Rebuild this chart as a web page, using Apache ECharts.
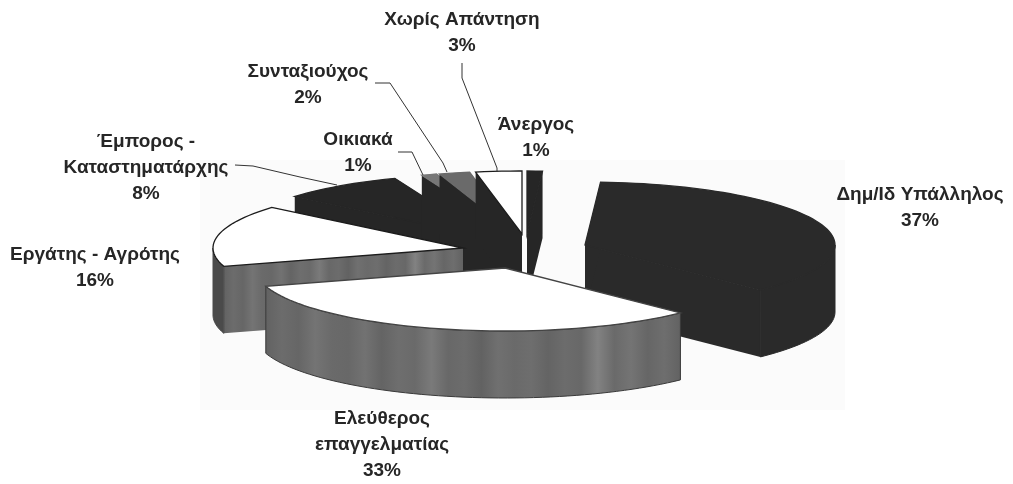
<!DOCTYPE html>
<html>
<head>
<meta charset="utf-8">
<style>
  html, body { margin: 0; padding: 0; background: #fff; }
  #pieChart { width: 1013px; height: 484px; }
</style>
</head>
<body>
<div id="pieChart"></div>
<script src="https://cdn.jsdelivr.net/npm/echarts@6/dist/echarts.min.js"></script>
<script>
// data, clockwise from 12 o'clock
const categories = ['Άνεργος', 'Δημ/Ιδ Υπάλληλος', 'Ελεύθερος\nεπαγγελματίας', 'Εργάτης - Αγρότης',
  'Έμπορος -\nΚαταστηματάρχης', 'Οικιακά', 'Συνταξιούχος', 'Χωρίς Απάντηση'];
const values = [1, 37, 33, 16, 8, 1, 2, 3];

// layout of the fake 3d pie
const pieCenter = [522, 240];
const radiusX = 250;
const radiusY = 63;
const depth = 67;
const explodeX = [5, 63, -17, -59, -36, -9, -6, 0];
const explodeY = [-6, 5, 28, 8, -3, -6, -6, -6];
const drawOrder = [0, 1, 4, 5, 6, 7, 3, 2]; // back to front

// label centres, first line
const labelX = [536, 920, 382, 95, 146, 358, 308, 462];
const labelY = [125, 195, 419, 255, 142, 140, 72, 20];
const leaders = [
  null, null, null, null,
  [[235, 165], [253, 166], [300, 177], [337, 185]],
  [[398, 152], [412, 152], [423, 175]],
  [[375, 83], [390, 83], [443, 163], [447, 172]],
  [[462, 63], [462, 78], [497, 168], [497, 172]]
];

const streaks = ['#626262', '#6c6c6c', '#666666', '#747474', '#6a6a6a', '#686868', '#727272', '#646464',
  '#6e6e6e', '#6a6a6a', '#7a7a7a', '#686868', '#6c6c6c', '#626262', '#707070', '#6a6a6a', '#6e6e6e', '#646464',
  '#6c6c6c', '#686868', '#828282', '#6a6a6a', '#747474', '#666666', '#6e6e6e', '#626262'];
const mottled = new echarts.graphic.LinearGradient(0, 0, 1, 0,
  streaks.map((color, i) => ({ offset: i / (streaks.length - 1), color: color })));

const topColors = ['#262626', '#2a2a2a', '#ffffff', '#ffffff', '#262626', '#777777', '#6a6a6a', '#ffffff'];
const topStrokes = ['#262626', '#2a2a2a', '#444444', '#1c1c1c', '#262626', '#777777', '#6a6a6a', '#1c1c1c'];
const sideColors = ['#262626', '#2a2a2a', mottled, '#4a4a4a', '#262626', '#262626', '#262626', '#262626'];
const innerColors = ['#262626', '#2a2a2a', mottled, mottled, '#262626', '#262626', '#262626', '#262626'];

const total = values.reduce((a, b) => a + b, 0);
const startAngle = values.map((v, i) => values.slice(0, i).reduce((a, b) => a + b, 0) / total * 360);

const rimPoint = (ax, ay, deg) => {
  const rad = deg * Math.PI / 180;
  return [ax + radiusX * Math.sin(rad), ay - radiusY * Math.cos(rad)];
};
const arcPoints = (ax, ay, from, to) => {
  const points = [];
  for (let d = from; d < to; d += 2) points.push(rimPoint(ax, ay, d));
  points.push(rimPoint(ax, ay, to));
  return points;
};
const drop = (p) => [p[0], p[1] + depth];

const renderSlice = (params, api) => {
  const i = api.value(0);
  const from = startAngle[i];
  const to = from + api.value(1) / total * 360;
  const ax = pieCenter[0] + explodeX[i];
  const ay = pieCenter[1] + explodeY[i];
  const apex = [ax, ay];
  const rim = arcPoints(ax, ay, from, to);
  const first = rim[0];
  const last = rim[rim.length - 1];
  const poly = (points, fill, stroke, lineWidth) => ({
    type: 'polygon',
    shape: { points: points },
    style: { fill: fill, stroke: stroke, lineWidth: lineWidth }
  });
  const children = [
    poly([apex, last, drop(last), drop(apex)], innerColors[i], null, 0),
    poly([apex, first, drop(first), drop(apex)], innerColors[i], null, 0)
  ];
  // only the part of the rim that faces the viewer has a visible wall
  const wallFrom = Math.max(from, 90);
  const wallTo = Math.min(to, 270);
  if (wallFrom < wallTo) {
    const wall = arcPoints(ax, ay, wallFrom, wallTo);
    children.push(poly(wall.concat(wall.map(drop).reverse()), sideColors[i],
      sideColors[i] === mottled ? '#3a3a3a' : sideColors[i], 1));
  }
  children.push(poly([apex].concat(rim), topColors[i], topStrokes[i], 1.3));
  return { type: 'group', children: children };
};

const labelElements = [];
categories.forEach((name, i) => {
  name.split('\n').concat(values[i] + '%').forEach((line, n) => {
    labelElements.push({
      type: 'text',
      style: {
        text: line,
        x: labelX[i],
        y: labelY[i] + n * 26,
        fill: '#262626',
        font: 'bold 19px "Liberation Sans", Arial, sans-serif',
        textAlign: 'center',
        textVerticalAlign: 'middle'
      }
    });
  });
  if (leaders[i]) {
    labelElements.push({
      type: 'polyline',
      shape: { points: leaders[i] },
      style: { fill: 'none', stroke: '#333', lineWidth: 1 }
    });
  }
});

const echart = echarts.init(document.querySelector('#pieChart'));
const option = {
  animation: false,
  backgroundColor: '#ffffff',
  graphic: {
    elements: [
      { type: 'rect', z: -1, shape: { x: 200, y: 160, width: 645, height: 250 }, style: { fill: '#fbfbfb' } }
    ].concat(labelElements.map((el) => Object.assign({ z: 10 }, el)))
  },
  series: [
    {
      type: 'custom',
      coordinateSystem: 'none',
      renderItem: renderSlice,
      data: drawOrder.map((i) => [i, values[i]])
    }
  ]
};
echart.setOption(option);
</script>
</body>
</html>
